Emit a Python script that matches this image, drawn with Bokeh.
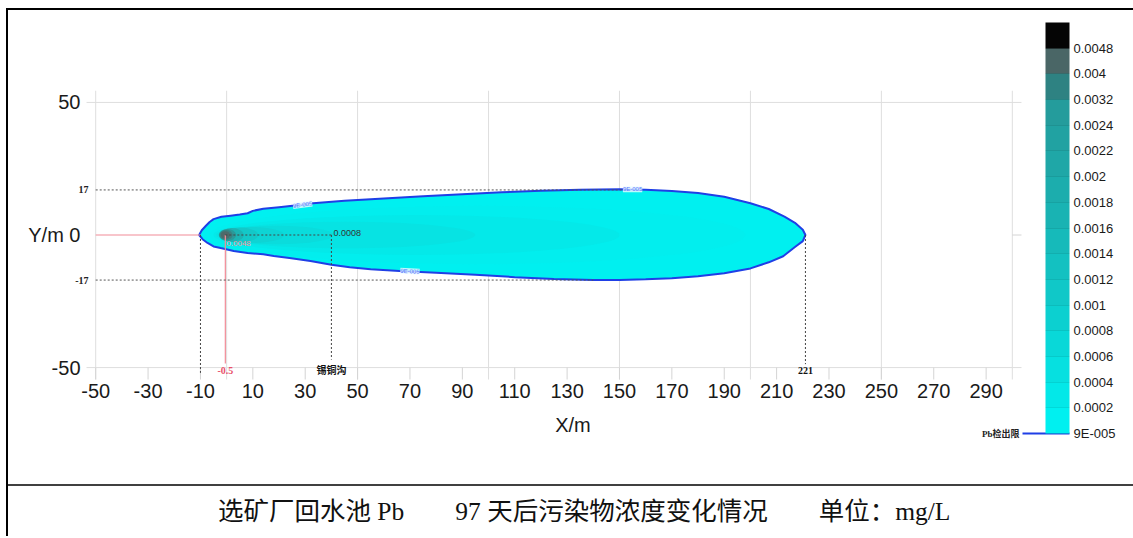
from bokeh.plotting import figure
from bokeh.layouts import column
from bokeh.models import Range1d, FixedTicker, ColorBar, LinearColorMapper
from bokeh.core.properties import value
from bokeh.embed import file_html
from bokeh.resources import INLINE

# ---------------- data ----------------
# outer 9E-005 contour (Pb detection limit), top edge left->right then bottom right->left
plume_x = [-10.5, -9.5, -8, -6.5, -5, -2, 1.5, 5, 8, 10, 14, 20, 26, 33, 45, 60, 75, 90, 105, 120,
           135, 150, 160, 170, 180, 190, 200, 207, 213, 217, 220, 221,
           220, 217, 212.5, 207, 200, 190, 180, 170, 160, 150, 140, 125, 110, 95, 80, 66, 55, 47,
           40, 32, 24, 18, 14, 8, 2.7, -2.3, -5, -7.3, -9.2]
plume_y = [0, 1.8, 3.4, 4.9, 6.0, 6.9, 7.3, 7.7, 8.2, 9.1, 9.9, 10.5, 11.1, 12.0, 12.9, 13.8, 14.6, 15.4, 16.1, 16.7,
           17.1, 17.3, 17.1, 16.6, 15.8, 14.4, 12.0, 9.8, 6.9, 4.6, 2.0, 0,
           -2.3, -4.5, -8.0, -10.3, -12.6, -14.4, -15.6, -16.3, -16.7, -17.0, -17.0, -16.6, -15.9, -15.0, -14.2, -13.6, -12.9, -12.2,
           -11.2, -9.8, -8.7, -7.9, -7.3, -6.8, -6.0, -4.9, -4.3, -3.0, -1.6]

# inner concentration zones (approximate ellipses), outer -> inner
zone_levels = [0.0002, 0.0004, 0.0006, 0.0008, 0.001, 0.0012, 0.0016, 0.0024, 0.0032, 0.004]
zone_cx = [95.75, 72.5, 45.5, 19.0, 9.75, 4.9, 2.0, 0.3, -0.2, -0.5]
zone_len = [204.5, 155.0, 99.0, 44.0, 24.5, 14.2, 9.0, 6.6, 5.0, 3.4]
zone_wid = [22.0, 15.0, 10.0, 7.0, 6.0, 5.6, 5.2, 4.6, 3.8, 2.8]
zone_colors = ["#02eeee", "#04e9e9", "#07e3e3", "#0adcdc", "#0ed4d4", "#13c8c8",
               "#1cb4b4", "#2a9a9a", "#3a8282", "#4e6a6a"]

# colour scale (bottom -> top)
level_labels = ["9E-005", "0.0002", "0.0004", "0.0006", "0.0008", "0.001", "0.0012", "0.0014",
                "0.0016", "0.0018", "0.002", "0.0022", "0.0024", "0.0032", "0.004", "0.0048"]
level_colors = ["#00f0f0", "#03e8e8", "#06e0e0", "#09d8d8", "#0cd0d0", "#10c8c8", "#13c1c1",
                "#16baba", "#19b3b3", "#1cadad", "#1fa7a7", "#21a2a2", "#249c9c", "#2e8282",
                "#4a6666", "#050505"]

x_ticks = [-50, -30, -10, 10, 30, 50, 70, 90, 110, 130, 150, 170, 190, 210, 230, 250, 270, 290]
x_grid = [-50, 0, 50, 100, 150, 200, 250, 300]
y_ticks = [-50, 0, 50]
y_grid = [-50, 50]
x_lim = [-53.5, 303.5]
y_lim = [-54.5, 54.5]

# reference lines
width_y = [17, -17]
width_xend = [153, 140]
source_x = -0.5
source_c = "0.0048"
left_x = -10
creek_x = 40
creek_c = "0.0008"
creek_name = "锡铜沟"
front_x = 221
contour_lab_x = [29, 155, 70]
contour_lab_y = [11.4, 17.3, -13.7]
contour_lab_ang = [0.13, 0.0, -0.05]
contour_lab_txt = ["9E-005", "9E-005", "9E-005"]
limit_name = "Pb检出限"

caption = "选矿厂回水池 Pb　　97 天后污染物浓度变化情况　　单位：mg/L"

# ---------------- page geometry (pixels) ----------------
PX0, SX = 95.2, 2.6189   # page x of X=-50, px per metre
PY0, SY = 234.5, 2.6515  # page y of Y=0, px per metre


def dx(px):
    return -50 + (px - PX0) / SX


def dy(py):
    return (PY0 - py) / SY


OX, OY = 8, 10          # page offset of the figure
FL, FR, FT, FB = 70, 1075, 90, 440   # frame on the page
PW, PH = 1125, 474

p = figure(width=PW, height=PH, frame_width=FR - FL, frame_height=FB - FT,
           min_border_left=FL - OX, min_border_top=FT - OY,
           min_border_right=PW - (FR - OX), min_border_bottom=PH - (FB - OY),
           x_range=Range1d(dx(FL), dx(FR)), y_range=Range1d(dy(FB), dy(FT)),
           output_backend="svg", toolbar_location=None, tools="")
p.outline_line_color = None
p.background_fill_color = "white"
p.border_fill_color = "white"
p.grid.grid_line_color = None

# grid frame and ticks
p.segment(x0=x_grid, y0=[y_lim[0]] * len(x_grid), x1=x_grid, y1=[y_lim[1]] * len(x_grid),
          line_color="#dedede", line_width=1)
p.segment(x0=[x_lim[0]] * len(y_grid), y0=y_grid, x1=[x_lim[1]] * len(y_grid), y1=y_grid,
          line_color="#dedede", line_width=1)
p.segment(x0=x_ticks, y0=[y_lim[0]] * len(x_ticks), x1=x_ticks, y1=[y_ticks[0]] * len(x_ticks),
          line_color="#d4d4d4", line_width=1)
p.segment(x0=[x_grid[-1]], y0=[0], x1=[x_lim[1]], y1=[0], line_color="#d4d4d4", line_width=1)

ax = p.xaxis[0]
ax.ticker = FixedTicker(ticks=x_ticks)
ax.major_label_overrides = {t: str(t) for t in x_ticks if t < 0}
ax.axis_line_color = None
ax.major_tick_line_color = None
ax.major_tick_in = 0
ax.major_tick_out = 0
ax.minor_tick_line_color = None
ax.major_label_text_font = "Liberation Sans"
ax.major_label_text_font_size = "20px"
ax.major_label_text_color = "#1a1a1a"
ax.major_label_standoff = -57
ax.axis_label = "X/m"
ax.axis_label_text_font = "Liberation Sans"
ax.axis_label_text_font_style = "normal"
ax.axis_label_text_font_size = "20px"
ax.axis_label_text_color = "#1a1a1a"
ax.axis_label_standoff = 13

ay = p.yaxis[0]
ay.ticker = FixedTicker(ticks=y_ticks)
ay.major_label_overrides = {0: "Y/m 0", -50: "-50"}
ay.axis_line_color = None
ay.major_tick_line_color = None
ay.major_tick_in = 0
ay.major_tick_out = 0
ay.minor_tick_line_color = None
ay.major_label_text_font = "Liberation Sans"
ay.major_label_text_font_size = "20px"
ay.major_label_text_color = "#1a1a1a"
ay.major_label_standoff = -10

# plume
p.patch(plume_x, plume_y, fill_color="#00f0f0", line_color=None)
p.ellipse(x=zone_cx, y=[0] * len(zone_cx), width=zone_len, height=zone_wid,
          fill_color=zone_colors, line_color=None)
p.patch(plume_x, plume_y, fill_color=None, line_color="#1f3fe6", line_width=2)

# red source lines
p.segment(x0=[-50, source_x], y0=[0, 0], x1=[left_x, source_x], y1=[0, -48.5],
          line_color="#f28c98", line_width=1.2)
# dashed guides
p.segment(x0=[-50, -50], y0=width_y, x1=width_xend, y1=width_y,
          line_color="#555555", line_dash="2 2", line_width=1)
p.segment(x0=[left_x, creek_x, front_x, source_x], y0=[0, 0, 0, 0],
          x1=[left_x, creek_x, front_x, creek_x], y1=[-52, -47, -48.7, 0],
          line_color="#444444", line_dash="2 2", line_width=1)

# contour labels
p.text(x=contour_lab_x, y=contour_lab_y, text=contour_lab_txt, angle=contour_lab_ang,
       text_font=value("Liberation Sans"), text_font_size="6px", text_color="#5577ff",
       text_align="center", text_baseline="middle",
       background_fill_color="#eefcff", background_fill_alpha=0.8)

# value labels
p.text(x=[creek_x], y=[0], text=[creek_c], x_offset=2, y_offset=-2,
       text_font=value("Liberation Sans"), text_font_size="9px", text_color="#333333",
       text_align="left", text_baseline="middle")
p.text(x=[source_x], y=[0], text=[source_c], x_offset=1, y_offset=8,
       text_font=value("Liberation Sans"), text_font_size="8px", text_color="#f0909a",
       text_align="left", text_baseline="middle")

# bottom annotations
p.text(x=[source_x], y=[-51.1], text=["-0.5"], text_font=value("Liberation Serif"),
       text_font_size="10px", text_font_style="bold", text_color="#e8506a",
       text_align="center", text_baseline="middle")
p.text(x=[creek_x, front_x], y=[-51.1, -51.1], text=[creek_name, str(front_x)],
       text_font=value("Liberation Serif, Noto Sans CJK SC"),
       text_font_size="10px", text_font_style="bold", text_color="#111111",
       text_align="center", text_baseline="middle")

# 17 / -17 side labels
p.text(x=[dx(88)] * 2, y=width_y, text=[str(v) for v in width_y],
       text_font=value("Liberation Serif"), text_font_size="10px", text_font_style="bold",
       text_color="#222222", text_align="right", text_baseline="middle")

# colour bar
mapper = LinearColorMapper(palette=level_colors, low=0, high=len(level_colors))
cb = ColorBar(color_mapper=mapper, ticker=FixedTicker(ticks=list(range(len(level_labels)))),
              major_label_overrides={i: t for i, t in enumerate(level_labels)},
              width=24, height=411, location=(1045 - FL, FB - 433), padding=0,
              label_standoff=4, major_label_text_font="Liberation Sans",
              major_label_text_font_size="13px", major_label_text_color="#1a1a1a",
              background_fill_alpha=0, border_line_color=None, bar_line_color=None,
              major_tick_in=24, major_tick_out=0, major_tick_line_color="#000000",
              major_tick_line_alpha=0.08)
p.add_layout(cb)

# detection limit marker
p.segment(x0=[dx(1022)], y0=[dy(433)], x1=[dx(1069)], y1=[dy(433)],
          line_color="#1f3fe6", line_width=2)
p.text(x=[dx(1019)], y=[dy(433)], text=[limit_name],
       text_font=value("Liberation Serif, Noto Sans CJK SC"), text_font_size="9px",
       text_font_style="bold", text_color="#222222", text_align="right", text_baseline="middle")

# caption strip (separator = its top border)
CH = 52
cap = figure(width=PW, height=CH, x_range=Range1d(0, PW), y_range=Range1d(0, CH),
             min_border=0, min_border_left=0, min_border_right=0, min_border_top=0,
             min_border_bottom=0, x_axis_location=None, y_axis_location=None,
             output_backend="svg", toolbar_location=None, tools="",
             styles={"border-style": "solid", "border-width": "2px 0px 0px 0px",
                     "border-color": "#404040", "overflow": "hidden"})
cap.outline_line_color = None
cap.grid.grid_line_color = None
cap.background_fill_color = "white"
cap.border_fill_color = "white"
cap.text(x=[575], y=[CH - (511 - 486)], text=[caption],
         text_font=value("Liberation Serif, Noto Sans CJK SC"), text_font_size="25.5px",
         text_color="#111111", text_align="center", text_baseline="middle")

root = column(p, cap, spacing=0,
              styles={"margin-left": "6px", "margin-top": "8px",
                      "border-style": "solid", "border-width": "2px 0px 0px 2px",
                      "border-color": "#000000", "overflow": "hidden"})

open("out.html", "w").write(file_html(root, INLINE))
